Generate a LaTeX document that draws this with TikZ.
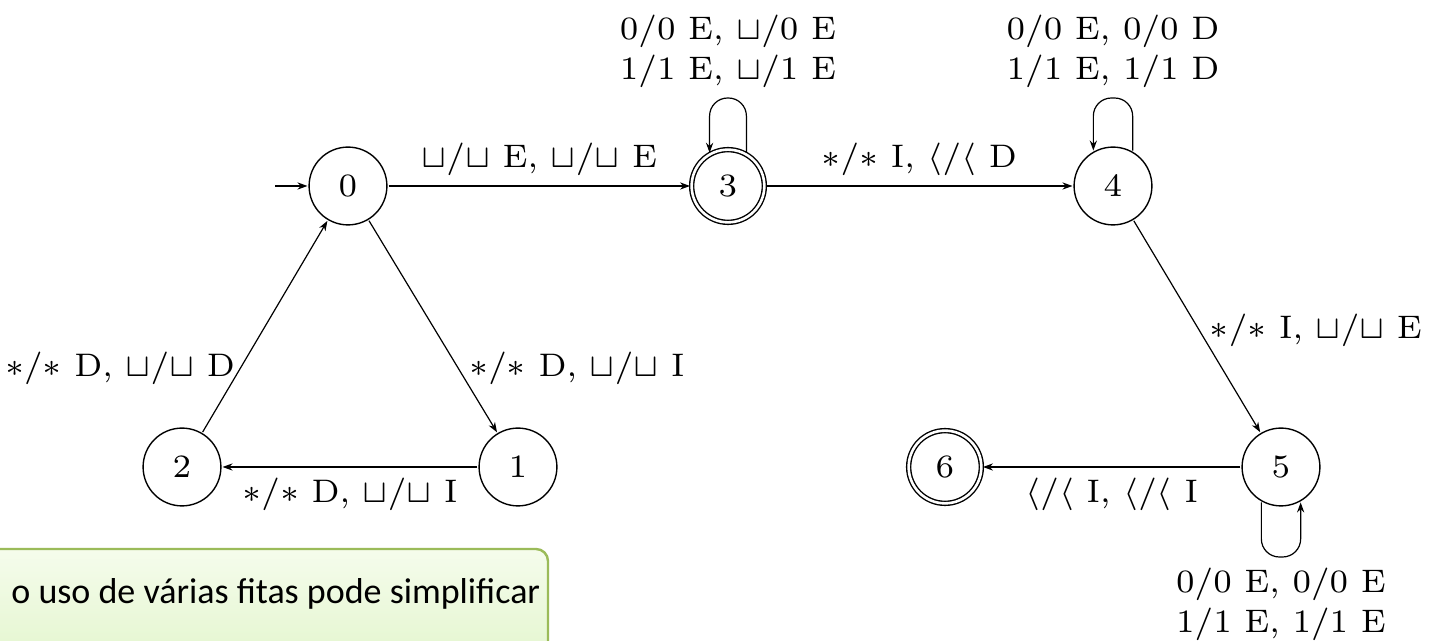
\documentclass[tikz,border=0pt]{standalone}
\usepackage{fontspec}
\newfontfamily\boxfont{Carlito}
\usetikzlibrary{arrows.meta}
\definecolor{boxtop}{HTML}{F5FCEC}
\definecolor{boxbot}{HTML}{E4F6CF}
\definecolor{boxline}{HTML}{9BBB59}
\tikzset{
  lbl/.style={font=\fontsize{7}{8.6}\selectfont, scale=2.33, inner sep=2pt},
  stnode/.style={circle, draw, line width=0.7pt, minimum size=16.7pt, inner sep=0pt, font=\fontsize{7}{8.4}\selectfont, scale=2.33},
  accnode/.style={stnode, double, double distance=1.3pt, minimum size=15.6pt},
  arr/.style={line width=0.6pt, -{Stealth[length=5pt,width=3.6pt]}},
}
\begin{document}
\begin{tikzpicture}[x=0.5pt,y=-0.5pt]
\useasboundingbox (0,0) rectangle (1437,641);
\clip (0,0) rectangle (1437,641);
\fill[white] (0,0) rectangle (1437,641);
% states
\node[stnode] (n0) at (348,186) {0};
\node[accnode] (n3) at (728,186) {3};
\node[stnode] (n4) at (1113,186) {4};
\node[stnode] (n2) at (182,467) {2};
\node[stnode] (n1) at (518,467) {1};
\node[accnode] (n6) at (945,467) {6};
\node[stnode] (n5) at (1281,467) {5};
\coordinate (init) at (275,186);
% transitions
\draw[arr] (init) -- (n0);
\draw[arr] (n0) -- node[lbl, above] {$\sqcup/\sqcup$ E, $\sqcup/\sqcup$ E} (n3);
\draw[arr] (n3) -- node[lbl, above] {$*/*$ I, $\langle/\langle$ D} (n4);
\draw[arr] (n0) -- node[lbl, pos=0.7, anchor=west] {$*/*$ D, $\sqcup/\sqcup$ I} (n1);
\draw[arr] (n2) -- node[lbl, pos=0.3, anchor=east, inner sep=0.8pt] {$*/*$ D, $\sqcup/\sqcup$ D} (n0);
\draw[arr] (n1) -- node[lbl, below] {$*/*$ D, $\sqcup/\sqcup$ I} (n2);
\draw[arr] (n4) -- node[lbl, pos=0.516, anchor=west] {$*/*$ I, $\sqcup/\sqcup$ E} (n5);
\draw[arr] (n5) -- node[lbl, below] {$\langle/\langle$ I, $\langle/\langle$ I} (n6);
% loops
\draw[arr, rounded corners=9pt] (n3.61) -- (n3.61 |- 0,98) -| node[lbl, pos=0.25, above, align=center] {0/0 E, $\sqcup$/0 E\\1/1 E, $\sqcup$/1 E} (n3.119);
\draw[arr, rounded corners=9pt] (n4.61) -- (n4.61 |- 0,98) -| node[lbl, pos=0.25, above, align=center] {0/0 E, 0/0 D\\1/1 E, 1/1 D} (n4.119);
\draw[arr, rounded corners=9pt] (n5.241) -- (n5.241 |- 0,557) -| node[lbl, pos=0.25, below, align=center] {0/0 E, 0/0 E\\1/1 E, 1/1 E} (n5.299);
% note box
\shade[top color=boxtop, bottom color=boxbot] (-5,549) -- (536,549) arc[start angle=90, end angle=0, radius=6pt] -- (548,660) -- (-5,660) -- cycle;
\draw[boxline, line width=1.2pt] (-5,549) -- (536,549) arc[start angle=90, end angle=0, radius=6pt] -- (548,660);
\node[anchor=base west, inner sep=0pt, font=\boxfont\fontsize{18}{20}\selectfont] (note) at (11,604) {o uso de várias fitas pode simplificar};
\end{tikzpicture}
\end{document}
